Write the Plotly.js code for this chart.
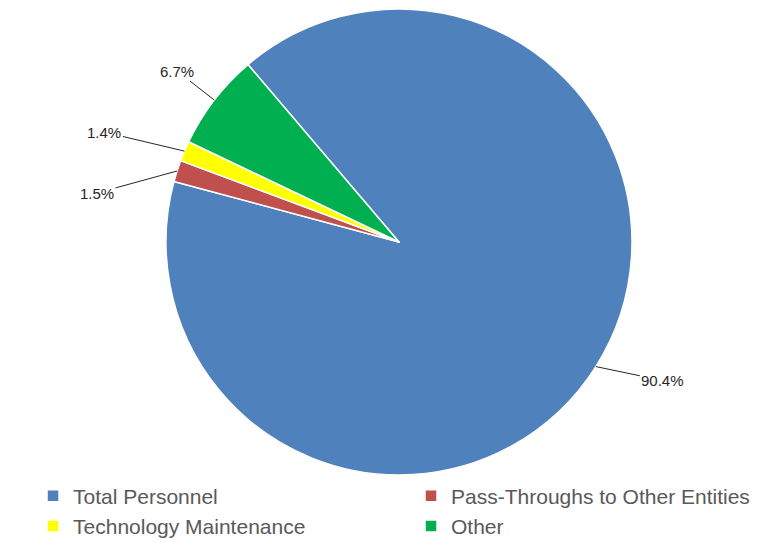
<!DOCTYPE html>
<html>
<head>
<meta charset="utf-8">
<script src="https://cdn.plot.ly/plotly-3.0.1.min.js"></script>
<style>html,body{margin:0;padding:0;background:#fff;}#chart{width:768px;height:542px;}</style>
</head>
<body>
<div id="chart"></div>
<script>
const categories = ["Total Personnel", "Pass-Throughs to Other Entities", "Technology Maintenance", "Other"];
const shares = [90.4, 1.5, 1.4, 6.7];
const colors = ["#4F81BD", "#C0504D", "#FFFF00", "#00B050"];

// label placement (pixel offsets from slice edge to label centre) - styling only
const labelOffsets = [[67, 14], [-80, 22], [-80, -19], [-37, -29]];

const W = 768, H = 542;
const startAngle = -40.4;          // degrees clockwise from 12 o'clock
const domX = [0.2161, 0.8229], domY = [0.1236, 0.9834];

const trace = {
  type: "pie",
  labels: categories,
  values: shares,
  sort: false,
  direction: "clockwise",
  rotation: startAngle,
  marker: {colors: colors, line: {color: "#ffffff", width: 1.5}},
  textinfo: "none",
  domain: {x: domX, y: domY},
  hoverinfo: "label+percent"
};

// compute label anchor points on the slice edges from the data
const cx = (domX[0] + domX[1]) / 2 * W;
const cy = (1 - (domY[0] + domY[1]) / 2) * H;
const r = Math.min((domX[1] - domX[0]) * W, (domY[1] - domY[0]) * H) / 2;
const total = shares.reduce((a, b) => a + b, 0);
let acc = 0;
const annotations = shares.map((v, i) => {
  const mid = startAngle + (acc + v / 2) / total * 360;
  acc += v;
  const a = mid * Math.PI / 180;
  const px = cx + r * Math.sin(a);
  const py = cy - r * Math.cos(a);
  return {
    xref: "paper", yref: "paper",
    x: px / W, y: 1 - py / H,
    ax: labelOffsets[i][0], ay: labelOffsets[i][1],
    text: (v / total * 100).toFixed(1) + "%",
    showarrow: true, arrowhead: 0, arrowwidth: 1, arrowcolor: "#262626",
    standoff: 0, startstandoff: 0,
    font: {family: "Liberation Sans, Arial, sans-serif", size: 15, color: "#262626"}
  };
});

const layout = {
  width: W, height: H,
  margin: {l: 0, r: 0, t: 0, b: 0, autoexpand: false},
  paper_bgcolor: "#ffffff",
  showlegend: true,
  annotations: annotations,
  legend: {
    orientation: "h",
    x: 0.043, xanchor: "left",
    y: 0.1227, yanchor: "top",
    entrywidth: 333, entrywidthmode: "pixels",
    itemwidth: 30,
    font: {family: "Liberation Sans, Arial, sans-serif", size: 21, color: "#595959"},
    bgcolor: "rgba(0,0,0,0)"
  }
};

Plotly.newPlot("chart", [trace], layout, {displayModeBar: false});
</script>
</body>
</html>
